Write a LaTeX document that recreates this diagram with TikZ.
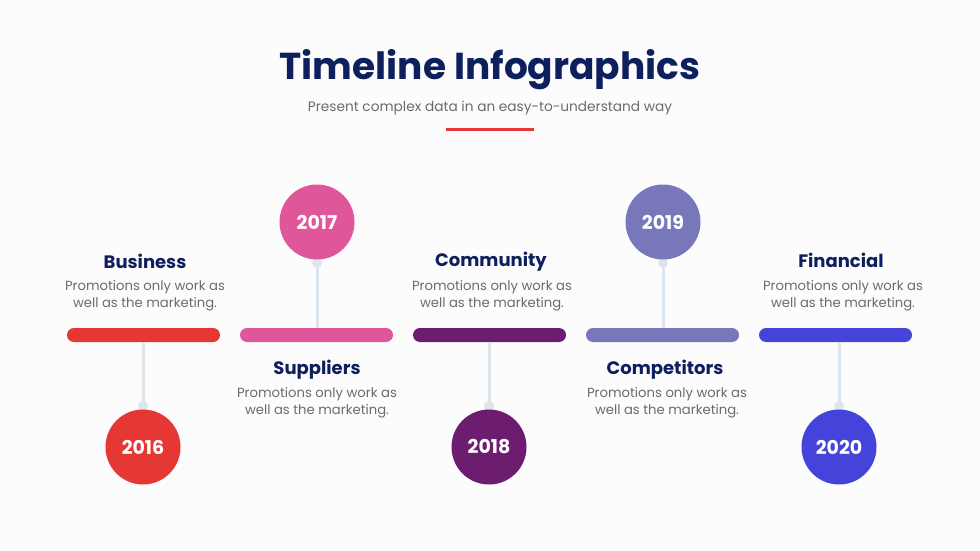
\documentclass[tikz,border=0pt]{standalone}
\usepackage{fontspec}
\setmainfont{Poppins}
\newfontfamily\popb{Poppins}[UprightFont=* Bold]
\definecolor{navy}{HTML}{0D1F5C}
\definecolor{txtgray}{HTML}{6B6B6B}
\definecolor{stem}{HTML}{DCE5EC}
\definecolor{cA}{HTML}{E53835}
\definecolor{cB}{HTML}{E0569B}
\definecolor{cC}{HTML}{6C1D70}
\definecolor{cD}{HTML}{7777BA}
\definecolor{cE}{HTML}{4444DA}
\definecolor{accent}{HTML}{E53835}
\tikzset{
  bar/.style={rounded corners=7pt, minimum width=153pt, minimum height=14pt, inner sep=0pt},
  yearcirc/.style={circle, minimum size=75pt, inner sep=0pt, text=white, font=\popb\fontsize{19}{22}\selectfont},
  head/.style={text=navy, font=\popb\fontsize{18}{22}\selectfont, inner sep=0pt},
  desc/.style={text=txtgray, font=\fontsize{13.2}{17}\selectfont, align=center, inner sep=0pt},
  stemline/.style={draw=stem, line width=3pt},
  knob/.style={circle, fill=stem, minimum size=10pt, inner sep=0pt},
}
\begin{document}
\begin{tikzpicture}[x=1pt,y=-1pt]
\fill[white!98!gray] (0,0) rectangle (980,551);
\useasboundingbox (0,0) rectangle (980,551);
% title
\node[text=navy, font=\popb\fontsize{37.5}{42}\selectfont, inner sep=0pt] (title) at (490,70) {Timeline Infographics};
\node[text=txtgray, font=\fontsize{13.7}{16}\selectfont, inner sep=0pt] (sub) at (490,108) {Present complex data in an easy-to-understand way};
\coordinate (r1) at (446,129.5);
\coordinate (r2) at (534,129.5);
\draw[accent, line width=3pt] (r1) -- (r2);
% bars
\node[bar, fill=cA] (b1) at (143.5,335) {};
\node[bar, fill=cB] (b2) at (316.5,335) {};
\node[bar, fill=cC] (b3) at (489.5,335) {};
\node[bar, fill=cD] (b4) at (662.5,335) {};
\node[bar, fill=cE] (b5) at (835.5,335) {};
% knobs
\node[knob] (k1) at (143,406) {};
\node[knob] (k2) at (317,263) {};
\node[knob] (k3) at (489,406) {};
\node[knob] (k4) at (663,263) {};
\node[knob] (k5) at (839,406) {};
% stems
\draw[stemline] (b1.south -| k1) -- (k1.center);
\draw[stemline] (k2.center) -- (b2.north -| k2);
\draw[stemline] (b3.south -| k3) -- (k3.center);
\draw[stemline] (k4.center) -- (b4.north -| k4);
\draw[stemline] (b5.south -| k5) -- (k5.center);
% circles
\node[yearcirc, fill=cA] (y1) at (143,447) {2016};
\node[yearcirc, fill=cB] (y2) at (317,222) {2017};
\node[yearcirc, fill=cC] (y3) at (489,447) {2018};
\node[yearcirc, fill=cD] (y4) at (663,222) {2019};
\node[yearcirc, fill=cE] (y5) at (839,447) {2020};
% headings and descriptions
\node[head] (h1) at (145,261) {Business};
\node[desc] (d1) at (145,295.5) {Promotions only work as\\well as the marketing.};
\node[head] (h2) at (317,369.5) {Suppliers};
\node[desc] (d2) at (317,402.5) {Promotions only work as\\well as the marketing.};
\node[head] (h3) at (491,262) {Community};
\node[desc] (d3) at (492,295.5) {Promotions only work as\\well as the marketing.};
\node[head] (h4) at (665,369.5) {Competitors};
\node[desc] (d4) at (667,402.5) {Promotions only work as\\well as the marketing.};
\node[head] (h5) at (841,260) {Financial};
\node[desc] (d5) at (843,295.5) {Promotions only work as\\well as the marketing.};
\end{tikzpicture}
\end{document}
